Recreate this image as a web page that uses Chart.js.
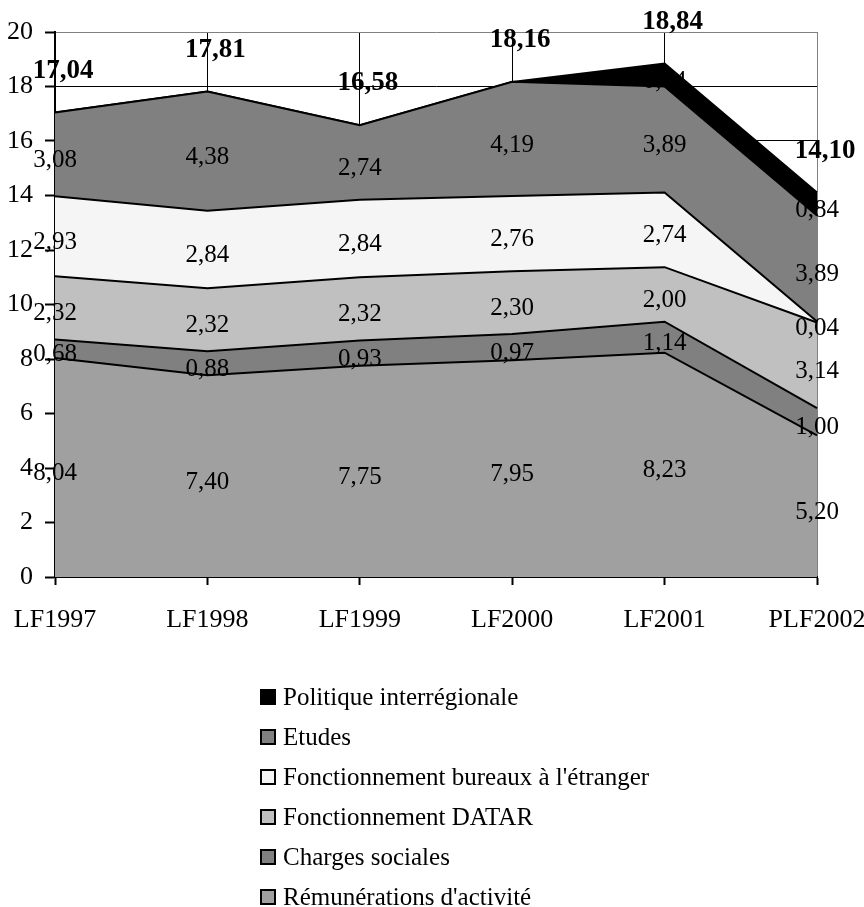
<!DOCTYPE html>
<html>
<head>
<meta charset="utf-8">
<script src="https://cdn.jsdelivr.net/npm/chart.js@4/dist/chart.umd.min.js"></script>
<style>
  body { margin: 0; background: #fff; }
  #wrap { position: relative; width: 864px; height: 907px; }
  #legend {
    position: absolute; left: 260px; top: 677px;
    font-family: "Liberation Serif", "Times New Roman", serif; font-size: 25px; color: #000;
  }
  .item { display: flex; align-items: center; height: 40px; white-space: nowrap; }
  .box { width: 16px; height: 16px; border: 2px solid #000; box-sizing: border-box; margin-right: 7px; }
</style>
</head>
<body>
<div id="wrap">
  <canvas id="chart" width="864" height="907"></canvas>
  <div id="legend"></div>
</div>
<script>
const years = ["LF1997", "LF1998", "LF1999", "LF2000", "LF2001", "PLF2002"];
const remunerations = [8.04, 7.40, 7.75, 7.95, 8.23, 5.20];
const chargesSociales = [0.68, 0.88, 0.93, 0.97, 1.14, 1.00];
const fonctionnementDatar = [2.32, 2.32, 2.32, 2.30, 2.00, 3.14];
const bureauxEtranger = [2.93, 2.84, 2.84, 2.76, 2.74, 0.04];
const etudes = [3.08, 4.38, 2.74, 4.19, 3.89, 3.89];
const politiqueInterregionale = [0, 0, 0, 0, 0.84, 0.84];
const totals = [17.04, 17.81, 16.58, 18.16, 18.84, 14.10];

const FONT = "'Liberation Serif', 'Times New Roman', serif";

function fmt(v) {
  return v.toFixed(2).replace(".", ",");
}

function area(label, data, color, fill) {
  return {
    label,
    data,
    backgroundColor: color,
    borderColor: "#000",
    borderWidth: 2,
    pointRadius: 0,
    tension: 0,
    fill
  };
}

// étiquettes de valeurs + totaux en gras
const valueLabels = {
  id: "valueLabels",
  afterDatasetsDraw(chart) {
    const ctx = chart.ctx;
    const y = chart.scales.y;
    ctx.save();
    ctx.fillStyle = "#000";
    ctx.textAlign = "center";
    ctx.textBaseline = "middle";
    ctx.font = "25px " + FONT;
    chart.data.datasets.forEach((ds, i) => {
      const meta = chart.getDatasetMeta(i);
      const prev = i > 0 ? chart.getDatasetMeta(i - 1) : null;
      meta.data.forEach((pt, j) => {
        const v = ds.data[j];
        if (!v) return;
        const base = prev ? prev.data[j].y : y.getPixelForValue(0);
        ctx.fillText(fmt(v), pt.x, (pt.y + base) / 2 + 6);
      });
    });
    ctx.font = "bold 27px " + FONT;
    const x = chart.scales.x;
    totals.forEach((t, j) => {
      ctx.fillText(fmt(t), x.getPixelForValue(j) + 8, y.getPixelForValue(t) - 42);
    });
    ctx.restore();
  }
};

const chart = new Chart(document.getElementById("chart"), {
  type: "line",
  data: {
    labels: years,
    datasets: [
      area("Rémunérations d'activité", remunerations, "#a0a0a0", "origin"),
      area("Charges sociales", chargesSociales, "#808080", "-1"),
      area("Fonctionnement DATAR", fonctionnementDatar, "#c0c0c0", "-1"),
      area("Fonctionnement bureaux à l'étranger", bureauxEtranger, "#f5f5f5", "-1"),
      area("Etudes", etudes, "#808080", "-1"),
      area("Politique interrégionale", politiqueInterregionale, "#000000", "-1")
    ]
  },
  options: {
    responsive: false,
    animation: false,
    layout: { padding: { top: 32, right: 47, left: 0, bottom: 280 } },
    plugins: {
      legend: { display: false },
      tooltip: { enabled: false }
    },
    scales: {
      x: {
        offset: false,
        afterFit: s => { s.height = 50; s.paddingLeft = 0; s.paddingRight = 0; },
        grid: {
          color: c => (c.index === years.length - 1 ? "#808080" : "#000"),
          lineWidth: 1,
          tickLength: 8,
          tickColor: "#000",
          tickWidth: 2
        },
        border: { color: "#000", width: 2 },
        ticks: { color: "#000", font: { family: FONT, size: 26 }, padding: 20, maxRotation: 0 }
      },
      y: {
        stacked: true,
        min: 0,
        max: 20,
        afterFit: s => { s.width = 55; s.paddingTop = 0; s.paddingBottom = 0; },
        grid: {
          color: c => (c.tick && c.tick.value === 20 ? "#808080" : "#000"),
          lineWidth: 1,
          tickLength: 10,
          tickColor: "#000",
          tickWidth: 2
        },
        border: { color: "#000", width: 2 },
        ticks: { stepSize: 2, color: "#000", font: { family: FONT, size: 26 }, padding: 12 }
      }
    }
  },
  plugins: [valueLabels]
});

// légende verticale, ordre inverse des séries
const legend = document.getElementById("legend");
chart.data.datasets.slice().reverse().forEach(ds => {
  const item = document.createElement("div");
  item.className = "item";
  const box = document.createElement("span");
  box.className = "box";
  box.style.background = ds.backgroundColor;
  const txt = document.createElement("span");
  txt.textContent = ds.label;
  item.appendChild(box);
  item.appendChild(txt);
  legend.appendChild(item);
});
</script>
</body>
</html>
